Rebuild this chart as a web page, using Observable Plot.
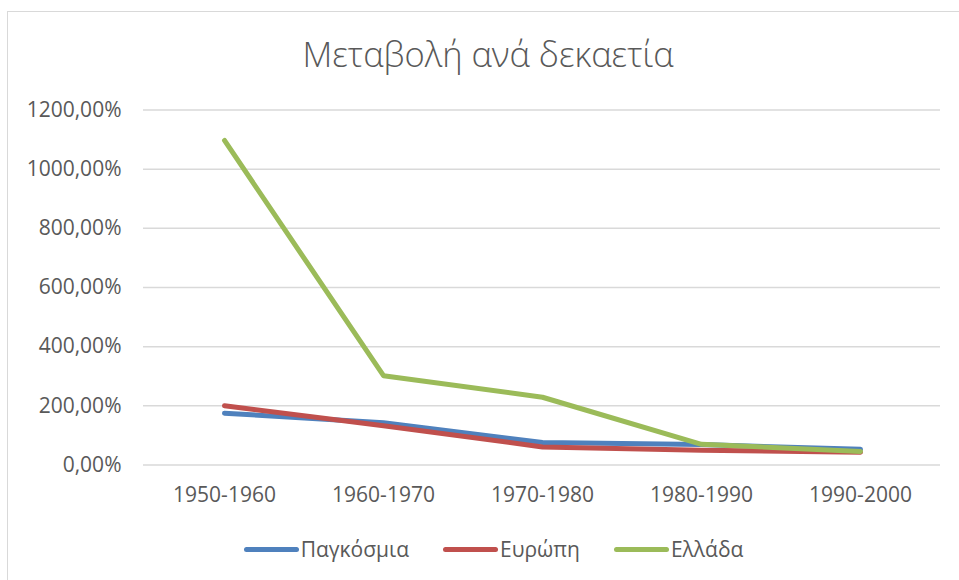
<!DOCTYPE html>
<html>
<head>
<meta charset="utf-8">
<script src="https://cdn.jsdelivr.net/npm/d3@7"></script>
<script src="https://cdn.jsdelivr.net/npm/@observablehq/plot@0.6"></script>
<style>
  html, body { margin: 0; padding: 0; background: #fff; overflow: hidden; }
  body { width: 959px; height: 580px; position: relative; font-family: "Open Sans", sans-serif; color: #595959; }
  #frame { position: absolute; left: 7px; top: 11px; width: 1000px; height: 1000px; border: 1.5px solid #d9d9d9; box-sizing: border-box; }
  #title { position: absolute; left: 188px; width: 600px; top: 37px; text-align: center; font-size: 34.5px; font-weight: 300; color: #595959; line-height: 1; }
  #chart { position: absolute; left: 0; top: 90px; }
  #legend { position: absolute; left: 14px; width: 959px; top: 535px; display: flex; justify-content: center; gap: 0; font-size: 21px; color: #595959; }
  .item { display: flex; align-items: center; margin: 0 17px; }
  .sw { width: 55px; height: 5px; border-radius: 3px; margin-right: 2px; }
</style>
</head>
<body>
<div id="frame"></div>
<div id="title">Μεταβολή ανά δεκαετία</div>
<div id="chart"></div>
<div id="legend"></div>
<script>
const periods = ["1950-1960", "1960-1970", "1970-1980", "1980-1990", "1990-2000"];
const world = [175, 143, 76, 69, 53];
const europe = [200, 133, 61, 50, 43];
const greece = [1097, 302, 229, 70, 46];
const seriesNames = ["Παγκόσμια", "Ευρώπη", "Ελλάδα"];
const yTicks = [0, 200, 400, 600, 800, 1000, 1200];

const seriesColors = ["#4F81BD", "#C0504D", "#9BBB59"];
const allSeries = [world, europe, greece];
const data = [];
allSeries.forEach((vals, si) => {
  vals.forEach((v, i) => data.push({series: seriesNames[si], period: periods[i], value: v}));
});

const fmt = d => d.toFixed(2).replace(".", ",") + "%";

const chart = Plot.plot({
  width: 959,
  height: 430,
  marginLeft: 143,
  marginRight: 19,
  marginTop: 19.5,
  marginBottom: 55.5,
  style: {fontFamily: "Open Sans, sans-serif", fontSize: "21px", color: "#595959", background: "transparent"},
  x: {type: "point", domain: periods, padding: 0.5, label: null},
  y: {domain: [0, 1200], ticks: yTicks, label: null},
  color: {domain: seriesNames, range: seriesColors},
  marks: [
    Plot.gridY(yTicks, {stroke: "#d9d9d9", strokeOpacity: 1, strokeWidth: 1.5}),
    Plot.axisY(yTicks, {tickSize: 0, tickPadding: 22, tickFormat: fmt, fill: "#595959", fontSize: 21, label: null}),
    Plot.axisX({tickSize: 0, tickPadding: 22, fill: "#595959", fontSize: 21, label: null}),
    Plot.line(data, {x: "period", y: "value", z: "series", stroke: "series", strokeWidth: 5, strokeLinecap: "round", strokeLinejoin: "round"})
  ]
});
document.getElementById("chart").appendChild(chart);

const legend = document.getElementById("legend");
seriesNames.forEach((name, i) => {
  const it = document.createElement("div");
  it.className = "item";
  const sw = document.createElement("div");
  sw.className = "sw";
  sw.style.background = seriesColors[i];
  const t = document.createElement("span");
  t.textContent = name;
  it.appendChild(sw);
  it.appendChild(t);
  legend.appendChild(it);
});
</script>
</body>
</html>
